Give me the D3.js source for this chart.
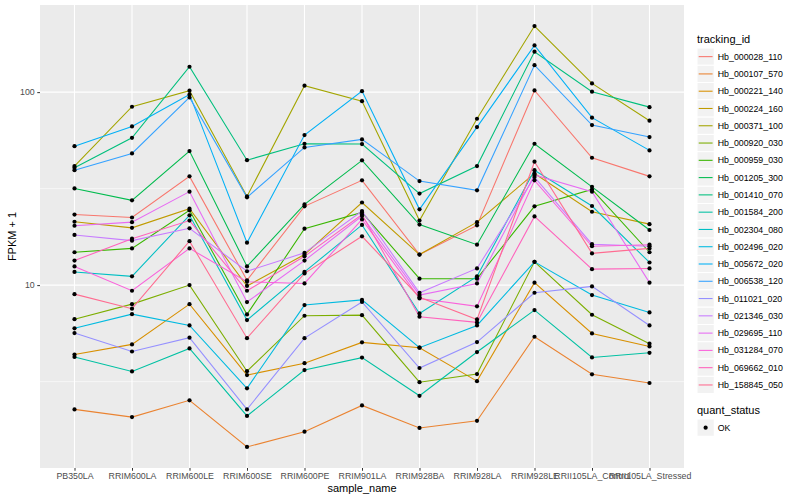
<!DOCTYPE html>
<html>
<head>
<meta charset="utf-8">
<script src="https://cdn.jsdelivr.net/npm/d3@7"></script>
<style>
body { margin: 0; background: #fff; }
text { font-family: "Liberation Sans", Arial, sans-serif; }
</style>
</head>
<body>
<svg width="800" height="500"></svg>
<script>
// samples on the x axis
var samples = ["PB350LA", "RRIM600LA", "RRIM600LE", "RRIM600SE", "RRIM600PE", "RRIM901LA",
    "RRIM928BA", "RRIM928LA", "RRIM928LE", "RRII105LA_Control", "RRII105LA_Stressed"];

// FPKM + 1 per transcript, same order as samples
var Hb_000028_110 = [23.2, 22.4, 36.6, 10.6, 25.6, 34.9, 14.4, 20.4, 102, 45.7, 36.6];
var Hb_000107_570 = [2.27, 2.07, 2.53, 1.45, 1.74, 2.38, 1.82, 1.98, 5.40, 3.45, 3.11];
var Hb_000221_140 = [4.37, 4.93, 7.97, 3.42, 3.94, 5.05, 4.74, 3.18, 10.3, 5.62, 4.81];
var Hb_000224_160 = [21.3, 19.8, 24.9, 9.9, 14.4, 26.8, 14.4, 21.2, 37.9, 24.0, 20.7];
var Hb_000371_100 = [41.4, 84.0, 101.7, 28.8, 108, 89.8, 21.6, 72.8, 220, 111, 71.1];
var Hb_000920_030 = [6.66, 7.97, 10.0, 3.58, 6.94, 6.99, 3.14, 3.46, 13.2, 7.02, 4.97];
var Hb_000959_030 = [14.8, 15.5, 24.4, 7.05, 19.6, 23.8, 10.8, 10.8, 25.6, 31.3, 14.8];
var Hb_001205_300 = [31.7, 27.5, 49.5, 12.5, 26.2, 44.3, 20.6, 16.2, 54.0, 32.3, 19.3];
var Hb_001410_070 = [40.6, 58.0, 135.4, 44.4, 54.0, 53.8, 29.8, 41.4, 162, 100.5, 83.6];
var Hb_001584_200 = [4.24, 3.57, 4.70, 2.10, 3.63, 4.21, 2.67, 4.50, 7.42, 4.22, 4.46];
var Hb_002304_080 = [11.7, 11.1, 23.0, 6.59, 11.7, 20.5, 7.13, 11.1, 39.4, 25.7, 13.1];
var Hb_002496_020 = [5.97, 7.07, 6.18, 2.92, 7.88, 8.38, 4.74, 6.18, 13.2, 8.88, 7.22];
var Hb_005672_020 = [52.5, 66.4, 97.3, 16.6, 59.9, 101.2, 24.7, 65.9, 174.6, 73.7, 49.9];
var Hb_006538_120 = [39.4, 48.1, 93.9, 28.5, 51.7, 56.9, 34.6, 31.0, 138, 67.5, 58.5];
var Hb_011021_020 = [5.64, 4.53, 5.34, 2.27, 5.31, 8.18, 3.72, 5.07, 9.13, 9.85, 6.18];
var Hb_021346_030 = [18.2, 17.0, 19.7, 11.8, 14.7, 24.2, 9.13, 12.2, 36.3, 16.3, 15.9];
var Hb_029695_110 = [20.3, 21.2, 30.5, 8.17, 13.4, 22.8, 8.88, 10.2, 37.2, 30.5, 10.3];
var Hb_031284_070 = [12.5, 9.35, 15.5, 10.4, 10.2, 21.9, 8.53, 7.76, 34.9, 15.9, 16.2];
var Hb_069662_010 = [13.4, 17.4, 21.6, 9.35, 14.1, 23.2, 6.86, 6.41, 22.7, 12.1, 12.2];
var Hb_158845_050 = [8.98, 7.55, 16.9, 5.31, 11.5, 17.9, 8.66, 6.64, 43.6, 14.6, 15.5];

var trackingIds = ["Hb_000028_110", "Hb_000107_570", "Hb_000221_140", "Hb_000224_160", "Hb_000371_100",
    "Hb_000920_030", "Hb_000959_030", "Hb_001205_300", "Hb_001410_070", "Hb_001584_200",
    "Hb_002304_080", "Hb_002496_020", "Hb_005672_020", "Hb_006538_120", "Hb_011021_020",
    "Hb_021346_030", "Hb_029695_110", "Hb_031284_070", "Hb_069662_010", "Hb_158845_050"];

var seriesValues = [Hb_000028_110, Hb_000107_570, Hb_000221_140, Hb_000224_160, Hb_000371_100,
    Hb_000920_030, Hb_000959_030, Hb_001205_300, Hb_001410_070, Hb_001584_200,
    Hb_002304_080, Hb_002496_020, Hb_005672_020, Hb_006538_120, Hb_011021_020,
    Hb_021346_030, Hb_029695_110, Hb_031284_070, Hb_069662_010, Hb_158845_050];

// ggplot hue palette for 20 groups
var hues = ["#F8766D", "#EA8331", "#D89000", "#C09B00", "#A3A500", "#7CAE00", "#39B600", "#00BB4E",
    "#00BF7D", "#00C1A3", "#00BFC4", "#00BAE0", "#00B0F6", "#35A2FF", "#9590FF", "#C77CFF",
    "#E76BF3", "#FA62DB", "#FF62BC", "#FF6C91"];

var yBreaks = [10, 100];
var yMinor = [Math.sqrt(10), Math.sqrt(1000)];

var series = trackingIds.map(function(id, i)
{
    return {id: id, color: hues[i], points: samples.map(function(s, j) { return {x: s, y: seriesValues[i][j]}; })};
});

var svg = d3.select("svg");
var panel = {left: 40, right: 684, top: 5, bottom: 468};

// log scale, expanded 5% in log space like ggplot
var all = d3.merge(seriesValues);
var lo = Math.log10(d3.min(all)), hi = Math.log10(d3.max(all));
var pad = (hi - lo) * 0.05;
var yScale = d3.scaleLog()
    .domain([Math.pow(10, lo - pad), Math.pow(10, hi + pad)])
    .range([panel.bottom, panel.top]);

var xScale = d3.scalePoint()
    .domain(samples)
    .range([panel.left, panel.right])
    .padding(0.6);

svg.append("rect")
    .attr("x", panel.left).attr("y", panel.top)
    .attr("width", panel.right - panel.left).attr("height", panel.bottom - panel.top)
    .attr("fill", "#EBEBEB");

var grid = svg.append("g");
grid.selectAll(".minor").data(yMinor).enter().append("line")
    .attr("x1", panel.left).attr("x2", panel.right)
    .attr("y1", function(d) { return yScale(d); }).attr("y2", function(d) { return yScale(d); })
    .attr("stroke", "#fff").attr("stroke-width", 0.55);
grid.selectAll(".major").data(yBreaks).enter().append("line")
    .attr("x1", panel.left).attr("x2", panel.right)
    .attr("y1", function(d) { return yScale(d); }).attr("y2", function(d) { return yScale(d); })
    .attr("stroke", "#fff").attr("stroke-width", 1.1);
grid.selectAll(".vmajor").data(samples).enter().append("line")
    .attr("y1", panel.top).attr("y2", panel.bottom)
    .attr("x1", function(d) { return xScale(d); }).attr("x2", function(d) { return xScale(d); })
    .attr("stroke", "#fff").attr("stroke-width", 1.1);

var line = d3.line()
    .x(function(p) { return xScale(p.x); })
    .y(function(p) { return yScale(p.y); });

svg.append("g").selectAll("path").data(series).enter().append("path")
    .attr("d", function(s) { return line(s.points); })
    .attr("fill", "none")
    .attr("stroke", function(s) { return s.color; })
    .attr("stroke-width", 1.07);

svg.append("g").selectAll("g").data(series).enter().append("g")
    .selectAll("circle").data(function(s) { return s.points; }).enter().append("circle")
    .attr("cx", function(p) { return xScale(p.x); })
    .attr("cy", function(p) { return yScale(p.y); })
    .attr("r", 2.1)
    .attr("fill", "#000");

// axes
var xAxis = d3.axisBottom(xScale).tickSize(2.75).tickPadding(2.5);
var gx = svg.append("g").attr("transform", "translate(0," + panel.bottom + ")").call(xAxis);
gx.select(".domain").remove();
gx.selectAll("line").attr("stroke", "#333");
gx.selectAll("text").attr("fill", "#4D4D4D").style("font-size", "8.8px").style("font-family", "Liberation Sans, Arial, sans-serif");

var yAxis = d3.axisLeft(yScale).tickValues(yBreaks).tickFormat(d3.format("d")).tickSize(2.75).tickPadding(2.5);
var gy = svg.append("g").attr("transform", "translate(" + panel.left + ",0)").call(yAxis);
gy.select(".domain").remove();
gy.selectAll("line").attr("stroke", "#333");
gy.selectAll("text").attr("fill", "#4D4D4D").style("font-size", "8.8px").style("font-family", "Liberation Sans, Arial, sans-serif");

svg.append("text")
    .attr("x", (panel.left + panel.right) / 2).attr("y", 492)
    .attr("text-anchor", "middle").style("font-size", "11px")
    .text("sample_name");

svg.append("text")
    .attr("transform", "translate(16," + ((panel.top + panel.bottom) / 2) + ") rotate(-90)")
    .attr("text-anchor", "middle").style("font-size", "11px")
    .text("FPKM + 1");

// legend: tracking_id
var legend = svg.append("g").attr("transform", "translate(697,0)");
legend.append("text").attr("x", 0).attr("y", 43).style("font-size", "11px").text("tracking_id");
var key = 17.28;
var items = legend.selectAll(".item").data(series).enter().append("g")
    .attr("transform", function(s, i) { return "translate(0," + (48 + i * key) + ")"; });
items.append("rect")
    .attr("width", key).attr("height", key)
    .attr("fill", "#F2F2F2").attr("stroke", "#fff").attr("stroke-width", 1);
items.append("line")
    .attr("x1", 1.7).attr("x2", key - 1.7)
    .attr("y1", key / 2).attr("y2", key / 2)
    .attr("stroke", function(s) { return s.color; }).attr("stroke-width", 1.07);
items.append("text")
    .attr("x", key + 3.5).attr("y", key / 2 + 3.1)
    .style("font-size", "8.8px")
    .text(function(s) { return s.id; });

// legend: quant_status
var legend2 = svg.append("g").attr("transform", "translate(697,0)");
legend2.append("text").attr("x", 0).attr("y", 414).style("font-size", "11px").text("quant_status");
legend2.append("rect").attr("y", 419).attr("width", key).attr("height", key)
    .attr("fill", "#F2F2F2").attr("stroke", "#fff");
legend2.append("circle").attr("cx", key / 2).attr("cy", 419 + key / 2).attr("r", 2.1).attr("fill", "#000");
legend2.append("text").attr("x", key + 3.5).attr("y", 419 + key / 2 + 3.1).style("font-size", "8.8px").text("OK");
</script>
</body>
</html>
